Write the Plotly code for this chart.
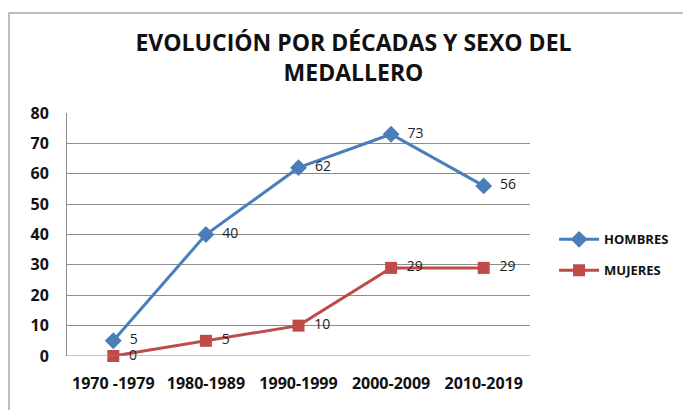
import plotly.graph_objects as go

categories = ["1970 -1979", "1980-1989", "1990-1999", "2000-2009", "2010-2019"]
hombres = [5, 40, 62, 73, 56]
mujeres = [0, 5, 10, 29, 29]
y_ticks = [0, 10, 20, 30, 40, 50, 60, 70, 80]

BLUE = "#4A7EBB"
RED = "#BE4B48"
FONT = "Open Sans"

# page offset compensation (browser body margin ~8px)
L, T, PW, PH = 59, 105, 463, 243

fig = go.Figure()
fig.add_trace(go.Scatter(
    x=categories, y=hombres, name="HOMBRES", mode="lines+markers+text",
    legendgroup="h",
    line=dict(color=BLUE, width=3),
    marker=dict(symbol="diamond", size=13, color=BLUE),
    text=["  " + str(v) for v in hombres], textposition="middle right",
    textfont=dict(family=FONT, size=14, color="#222"),
    cliponaxis=False,
))
fig.add_trace(go.Scatter(
    x=categories, y=mujeres, name="MUJERES", mode="lines+markers+text",
    legendgroup="m",
    line=dict(color=RED, width=3),
    marker=dict(symbol="square", size=12, color=RED),
    text=["  " + str(v) for v in mujeres], textposition="middle right",
    textfont=dict(family=FONT, size=14, color="#222"),
    cliponaxis=False,
))

fig.update_layout(
    width=691, height=410,
    margin=dict(l=L, r=691 - L - PW, t=T, b=410 - T - PH),
    paper_bgcolor="white", plot_bgcolor="white",
    font=dict(family=FONT, color="#111"),
    title=dict(
        text="<b>EVOLUCIÓN POR DÉCADAS Y SEXO DEL<br>MEDALLERO</b>",
        x=0.5, xanchor="center", xref="container",
        y=1 - 43 / 410, yanchor="top", yref="container",
        font=dict(family=FONT, size=23, color="#111"),
    ),
    showlegend=True,
    legend=dict(
        x=1.052, xanchor="left", y=0.416, yanchor="middle",
        font=dict(family=FONT, size=13, color="#111", weight="bold"),
        bgcolor="rgba(0,0,0,0)", tracegroupgap=11, itemwidth=40,
    ),
    shapes=[dict(
        type="rect", xref="paper", yref="paper",
        x0=(1 - L) / PW, x1=1.5, y0=-0.5, y1=(T + PH - 5) / PH,
        line=dict(color="#A6A6A6", width=1.5), layer="below",
    )],
)
fig.update_xaxes(
    type="category", range=[-0.5, 4.5], showgrid=False, zeroline=False,
    showline=False, ticks="", ticklabelstandoff=16,
    tickfont=dict(family=FONT, size=16, color="#111", weight="bold"),
)
fig.update_yaxes(
    range=[0, 80], tickvals=y_ticks, showgrid=True, gridcolor="#8C8C8C", gridwidth=1,
    zeroline=False, showline=True, linecolor="#8C8C8C", linewidth=1, ticks="",
    ticklabelstandoff=14,
    tickfont=dict(family=FONT, size=16, color="#111", weight="bold"),
)
fig.add_shape(type="line", xref="paper", yref="y", x0=0, x1=1, y0=0, y1=0,
              line=dict(color="#8C8C8C", width=1))

fig.write_html("out.html")
